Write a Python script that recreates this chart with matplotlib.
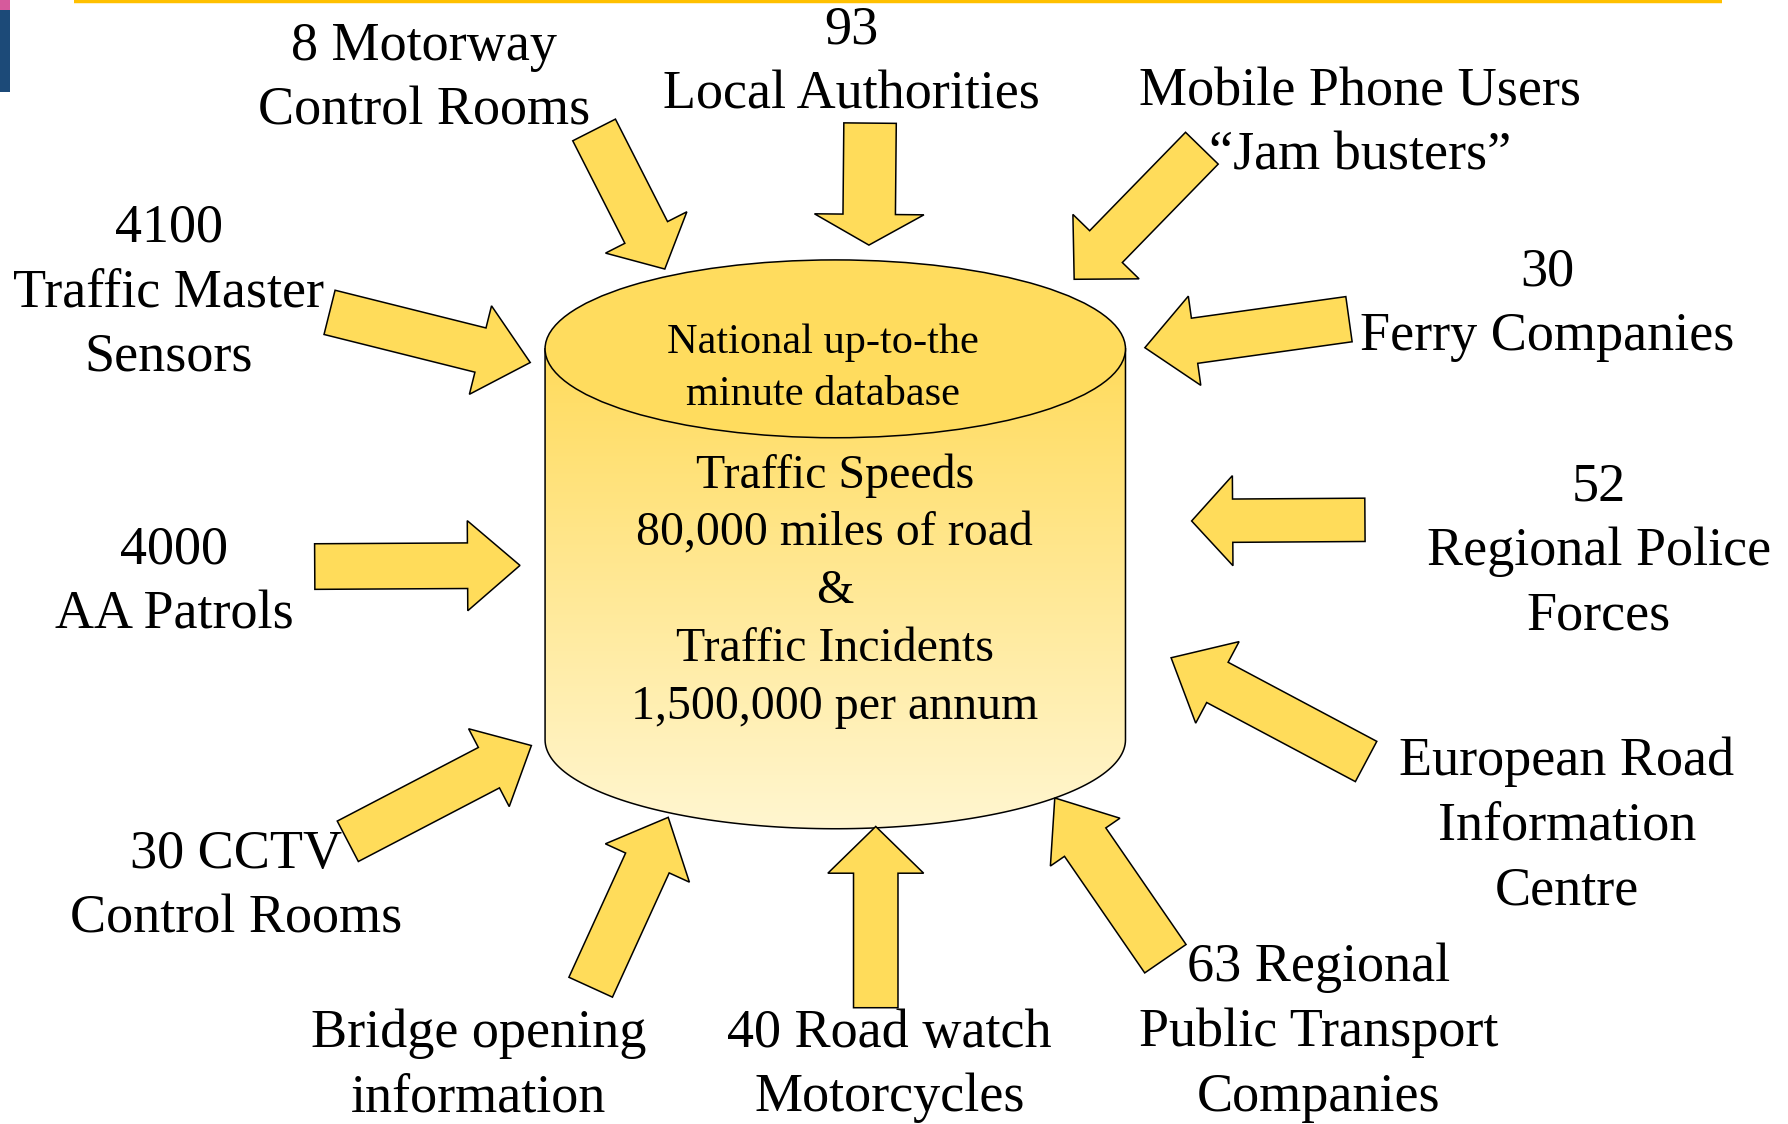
import numpy as np
import matplotlib
matplotlib.use('Agg')
import matplotlib.pyplot as plt
from matplotlib.patches import Polygon, Ellipse, Rectangle, PathPatch
from matplotlib.path import Path
from matplotlib.colors import LinearSegmentedColormap

plt.rcParams['font.family'] = ['Liberation Serif', 'DejaVu Serif']

# source labels round the database
labels = [
    '8 Motorway\nControl Rooms',
    '93\nLocal Authorities',
    'Mobile Phone Users\n\u201cJam busters\u201d',
    '4100\nTraffic Master\nSensors',
    '30\nFerry Companies',
    '52\nRegional Police\nForces',
    '4000\nAA Patrols',
    'European Road\nInformation\nCentre',
    '30 CCTV\nControl Rooms',
    'Bridge opening\ninformation',
    '40 Road watch\nMotorcycles',
    '63 Regional\nPublic Transport\nCompanies',
]
db_title = ['National up-to-the', 'minute database']
db_body = ['Traffic Speeds', '80,000 miles of road', '&',
           'Traffic Incidents', '1,500,000 per annum']

# layout (in 1568x986 reference units): label centre x, centre y
label_pos = [
    (372, 69), (747, 55), (1193, 109), (148, 257), (1357, 267),
    (1402, 484), (153, 511), (1374, 725), (207, 778), (420, 935),
    (780, 935), (1156, 906),
]
# arrows: tail centre, tip, shaft width, head width, head length
arrows = [
    ((521, 114), (583, 236), 42, 80, 36),
    ((763, 108), (762, 215), 46, 96, 27),
    ((1054, 130), (942, 245), 40, 81, 40),
    ((289, 274), (465, 318), 40, 80, 45),
    ((1183, 280), (1004, 305), 40, 79, 44),
    ((1197, 456), (1045, 457), 38, 79, 36),
    ((276, 497), (456, 496), 40, 79, 46),
    ((1198, 668), (1027, 577), 40, 81, 46),
    ((305, 738), (466, 654), 40, 77, 42),
    ((518, 866), (586, 717), 42, 81, 44),
    ((768, 884), (768, 725), 39, 84, 41),
    ((1022, 841), (925, 700), 44, 74, 47),
]

W, H = 1568, 986
fig = plt.figure(figsize=(17.88, 11.24), dpi=100)
ax = fig.add_axes([0, 0, 1, 1])

ARROW_FILL = '#FFDC5A'


def arrow_poly(tail, tip, sw, hw, hl):
    tail = np.array(tail, float)
    tip = np.array(tip, float)
    u = (tip - tail) / np.linalg.norm(tip - tail)
    n = np.array([-u[1], u[0]])
    base = tip - u * hl
    return [tail + n * sw / 2, base + n * sw / 2, base + n * hw / 2, tip,
            base - n * hw / 2, base - n * sw / 2, tail - n * sw / 2]


# cylinder
cx, left, right = 732.5, 478, 987
a = (right - left) / 2
top_y, bot_y, b = 306, 649, 78
t = np.linspace(np.pi, 0, 120)
arc = np.column_stack([cx + a * np.cos(t), bot_y + b * np.sin(t)])
body = np.vstack([[left, top_y], arc, [right, top_y], [left, top_y]])
codes = [Path.MOVETO] + [Path.LINETO] * (len(body) - 2) + [Path.CLOSEPOLY]
body_patch = PathPatch(Path(body, codes), facecolor='none', edgecolor='none')
ax.add_patch(body_patch)

cmap = LinearSegmentedColormap.from_list('cyl', ['#FFDB5C', '#FFF6D0'])
grad = np.linspace(0, 1, 256).reshape(-1, 1)
im = ax.imshow(grad, cmap=cmap, extent=(left, right, bot_y + b, top_y),
               origin='upper', aspect='auto', zorder=1)
im.set_clip_path(body_patch)
outline = np.vstack([[left, top_y], arc, [right, top_y]])
ax.plot(outline[:, 0], outline[:, 1], color='black', lw=1.1, zorder=2)
ax.add_patch(Ellipse((cx, top_y), 2 * a, 2 * b, facecolor='#FFDC5E',
                     edgecolor='black', lw=1.1, zorder=3))

for i, line in enumerate(db_title):
    ax.text(722, 301 + 45 * i, line, ha='center', va='center',
            fontsize=30.5, zorder=4)
for i, line in enumerate(db_body):
    ax.text(732, 417 + 50.8 * i, line, ha='center', va='center',
            fontsize=34.5, zorder=4)

# arrows
for tail, tip, sw, hw, hl in arrows:
    ax.add_patch(Polygon(arrow_poly(tail, tip, sw, hw, hl), closed=True,
                         facecolor=ARROW_FILL, edgecolor='black', lw=1.1,
                         joinstyle='miter', zorder=5))

# labels
for text, (x, y) in zip(labels, label_pos):
    ax.text(x, y, text, ha='center', va='center', fontsize=39,
            linespacing=1.37, zorder=6)

# slide decoration
ax.plot([65, 1510], [1, 1], color='#FFC000', lw=3.2, solid_capstyle='butt')
ax.add_patch(Rectangle((0, 0), 9, 9, color='#D65A9C', lw=0))
ax.add_patch(Rectangle((0, 9), 9, 72, color='#1C4A78', lw=0))

ax.set_xlim(0, W)
ax.set_ylim(H, 0)
ax.axis('off')
fig.savefig('out.png', dpi=100, facecolor='white')
